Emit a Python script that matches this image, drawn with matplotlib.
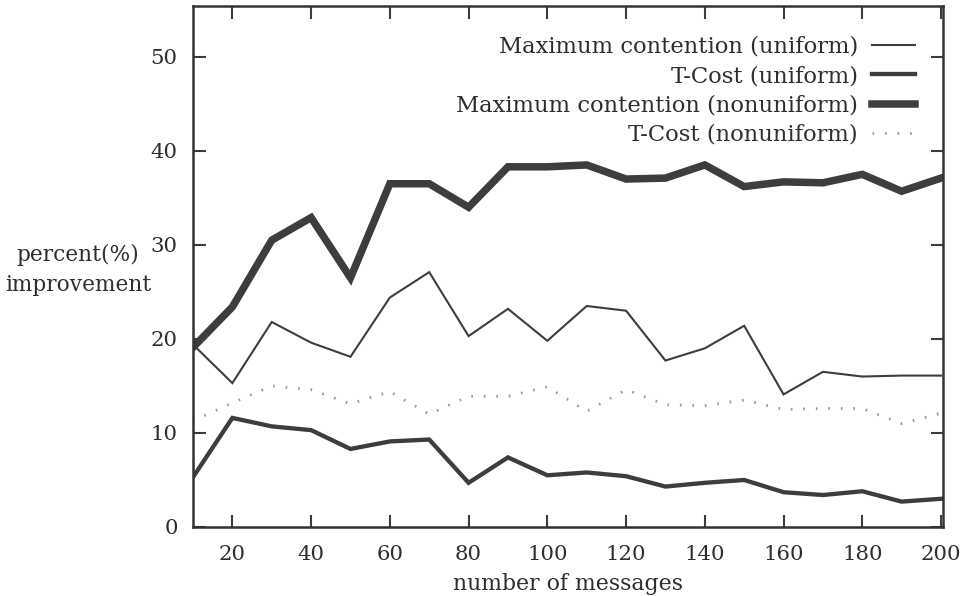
import matplotlib
matplotlib.use("Agg")
import matplotlib.pyplot as plt

messages = [10, 20, 30, 40, 50, 60, 70, 80, 90, 100,
            110, 120, 130, 140, 150, 160, 170, 180, 190, 200]
maxcont_uniform = [19.4, 15.3, 21.8, 19.6, 18.1, 24.4, 27.1, 20.3, 23.2, 19.8,
                   23.5, 23.0, 17.7, 19.0, 21.4, 14.1, 16.5, 16.0, 16.1, 16.1]
tcost_uniform = [5.3, 11.6, 10.7, 10.3, 8.3, 9.1, 9.3, 4.7, 7.4, 5.5,
                 5.8, 5.4, 4.3, 4.7, 5.0, 3.7, 3.4, 3.8, 2.7, 3.0]
maxcont_nonuniform = [19.1, 23.4, 30.5, 32.9, 26.5, 36.5, 36.5, 34.0, 38.3, 38.3,
                      38.5, 37.0, 37.1, 38.5, 36.2, 36.7, 36.6, 37.5, 35.7, 37.1]
tcost_nonuniform = [11.3, 13.2, 15.0, 14.6, 13.1, 14.4, 12.0, 13.9, 13.9, 14.9,
                    12.3, 14.6, 13.0, 12.9, 13.5, 12.5, 12.6, 12.6, 11.0, 12.1]
labels = ["Maximum contention (uniform)", "T-Cost (uniform)",
          "Maximum contention (nonuniform)", "T-Cost (nonuniform)"]
xticks = [20, 40, 60, 80, 100, 120, 140, 160, 180, 200]
yticks = [0, 10, 20, 30, 40, 50]

plt.rcParams['font.family'] = ['DejaVu Serif']
W, H = 967, 596
fig = plt.figure(figsize=(W / 100, H / 100), dpi=100)
L, R, T, B = 193, 943, 6, 527
ax = fig.add_axes([L / W, 1 - B / H, (R - L) / W, (B - T) / H])

line_col = '#3d3d3d'
text_col = '#2e2e2e'
ax.plot(messages, maxcont_uniform, color=line_col, lw=1.5, label=labels[0],
        solid_joinstyle='miter')
ax.plot(messages, tcost_uniform, color=line_col, lw=3.1, label=labels[1],
        solid_joinstyle='miter')
ax.plot(messages, maxcont_nonuniform, color=line_col, lw=5.4, label=labels[2],
        solid_joinstyle='miter')
ax.plot(messages, tcost_nonuniform, color='#9a9a9a', lw=2.0,
        linestyle=(0, (0.6, 3.9)), label=labels[3])

ax.set_xlim(10, 200.5)
ax.set_ylim(0, 55.4)
ax.set_xticks(xticks)
ax.set_yticks(yticks)
ax.tick_params(direction='in', length=9, width=1.5, top=True, right=True,
               labelsize=15.3, colors=line_col, labelcolor=text_col)
ax.tick_params(axis='x', pad=13)
ax.tick_params(axis='y', pad=11)
for s in ax.spines.values():
    s.set_linewidth(1.8)
    s.set_color('#333333')

ax.set_xlabel("number of messages", fontsize=15.8, color=text_col)
ax.xaxis.set_label_coords(0.5, -(573 - B) / (B - T))
fig.text(78 / W, 1 - 270 / H, "percent(%)\nimprovement", fontsize=15.6,
         color=text_col, ha='center', va='center', linespacing=1.5)

leg = ax.legend(loc='upper right',
                bbox_to_anchor=((915 - L) / (R - L), (B - 36) / (B - T)),
                frameon=False, markerfirst=False, fontsize=16.3, handlelength=1.9,
                handletextpad=0.62, labelspacing=0.32, borderpad=0, borderaxespad=0)
for t in leg.get_texts():
    t.set_color(text_col)

fig.savefig("out.png", dpi=100)
